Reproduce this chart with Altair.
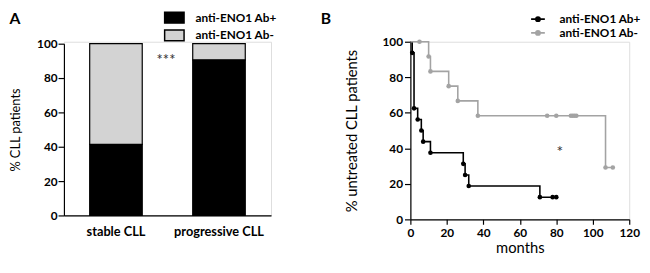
import altair as alt
import pandas as pd

FONT = "Lato"

# ---------- Panel A data ----------
categories = ["stable CLL", "progressive CLL"]
groups = ["anti-ENO1 Ab+", "anti-ENO1 Ab-"]
ab_pos_pct = [41.4, 90.6]
ab_neg_pct = [58.6, 9.4]
y_ticks = [0, 20, 40, 60, 80, 100]

# ---------- Panel B data (Kaplan-Meier steps) ----------
pos_months = [0, 1, 2, 4, 6, 7, 11, 29, 30, 32, 71, 78, 80]
pos_surv = [100, 93.75, 62.5, 56.25, 50, 43.75, 37.5, 31.25, 25, 18.75, 12.5, 12.5, 12.5]
neg_months = [0, 5, 10, 11, 21, 26, 37, 75, 80, 88, 89, 90, 91, 107, 111]
neg_surv = [100, 100, 91.7, 83.3, 75, 66.7, 58.3, 58.3, 58.3, 58.3, 58.3, 58.3, 58.3, 29.2, 29.2]
x_ticks = [0, 20, 40, 60, 80, 100, 120]
star_b_pos = {"months": [82], "surv": [38], "t": ["*"]}

bar_df = pd.DataFrame({
    "cat": categories * 2,
    "group": [groups[0]] * 2 + [groups[1]] * 2,
    "pct": ab_pos_pct + ab_neg_pct,
    "ord": [0, 0, 1, 1],
})

# wide rectangle swatch; size 121 -> nominal 11px box, path spans 1.8x wider
rect_shape = "M-1.8,-1H1.8V1H-1.8Z"

bars = alt.Chart(bar_df).mark_bar(stroke="black", strokeWidth=1.2).encode(
    x=alt.X("cat:N", sort=categories,
            scale=alt.Scale(paddingInner=0.49, paddingOuter=0.25),
            axis=alt.Axis(title=None, labelAngle=0, ticks=False, domainColor="black",
                          domainWidth=1.2, labelFont=FONT, labelFontWeight="bold",
                          labelFontSize=13, labelColor="black", labelPadding=10)),
    y=alt.Y("pct:Q", stack="zero",
            scale=alt.Scale(domain=[0, 100], range=[177, 2], nice=False),
            axis=alt.Axis(title="% CLL patients", values=y_ticks, grid=False,
                          labelOverlap=False, labelFlush=False,
                          domainColor="black", domainWidth=1.2, tickColor="black",
                          tickSize=6, tickWidth=1.2, labelPadding=1,
                          labelFont=FONT, labelFontWeight="bold", labelFontSize=12,
                          labelColor="black", titleFont=FONT, titleFontSize=13,
                          titleFontWeight="normal", titleColor="black", titlePadding=14)),
    color=alt.Color("group:N", sort=groups,
                    scale=alt.Scale(domain=groups, range=["black", "#d3d3d3"]),
                    legend=alt.Legend(title=None, orient="none", legendX=106, legendY=-31,
                                      symbolType=rect_shape, symbolSize=121,
                                      symbolStrokeColor="black", symbolStrokeWidth=1.5,
                                      labelFont=FONT, labelFontWeight="bold", labelFontSize=12,
                                      labelColor="black", labelOffset=15, rowPadding=1,
                                      padding=0)),
    order=alt.Order("ord:Q"),
)

stars_a = alt.Chart(pd.DataFrame({"t": ["***"]})).mark_text(
    font=FONT, fontSize=15, fill="#333333").encode(
    text="t:N", x=alt.value(104), y=alt.value(19))

label_a = alt.Chart(pd.DataFrame({"t": ["A"]})).mark_text(
    font=FONT, fontSize=16, fontWeight="bold", fill="black").encode(
    text="t:N", x=alt.value(-50), y=alt.value(-23))

panel_a = alt.layer(bars, stars_a, label_a).properties(width=211, height=177)

# ---------- Panel B ----------
km_rows = []
for m, s in zip(pos_months, pos_surv):
    km_rows.append({"group": groups[0], "months": m, "surv": s})
for m, s in zip(neg_months, neg_surv):
    km_rows.append({"group": groups[1], "months": m, "surv": s})
km_df = pd.DataFrame(km_rows)
km_df["mark"] = km_df["months"] > 0

xB = alt.X("months:Q", scale=alt.Scale(domain=[0, 120], nice=False),
           axis=alt.Axis(title="months", values=x_ticks, grid=False, domainColor="black",
                         labelOverlap=False, labelFlush=False,
                         domainWidth=1.2, tickColor="black", tickSize=5, tickWidth=1.2,
                         labelFont=FONT, labelFontWeight="bold", labelFontSize=12,
                         labelColor="black", labelPadding=3, titleFont=FONT,
                         titleFontSize=15, titleFontWeight="normal", titleColor="black",
                         titlePadding=3))
yB = alt.Y("surv:Q", scale=alt.Scale(domain=[0, 100], nice=False),
           axis=alt.Axis(title="% untreated CLL patients", values=y_ticks, grid=False,
                         labelOverlap=False, labelFlush=False,
                         domainColor="black", domainWidth=1.2, tickColor="black",
                         tickSize=6, tickWidth=1.2, labelPadding=2, labelFont=FONT,
                         labelFontWeight="bold", labelFontSize=12, labelColor="black",
                         titleFont=FONT, titleFontSize=15, titleFontWeight="normal",
                         titleColor="black", titlePadding=23))

line_shape = "M-1,0H1M-0.3,0A0.3,0.3 0 1,0 0.3,0A0.3,0.3 0 1,0 -0.3,0Z"
colB = alt.Color("group:N", sort=groups,
                 scale=alt.Scale(domain=groups, range=["black", "#a3a3a3"]),
                 legend=alt.Legend(title=None, orient="none", legendX=122, legendY=-31,
                                   symbolType=line_shape, symbolSize=196,
                                   symbolStrokeWidth=1.8, labelFont=FONT,
                                   labelFontWeight="bold", labelFontSize=12,
                                   labelColor="black", labelOffset=14, rowPadding=0,
                                   padding=0))

km_lines = alt.Chart(km_df).mark_line(interpolate="step-after", strokeWidth=1.6).encode(
    x=xB, y=yB, color=colB, detail="group:N")
km_pts = alt.Chart(km_df).transform_filter("datum.mark").mark_circle(size=22, opacity=1).encode(
    x=xB, y=yB, color=colB)

star_b = alt.Chart(pd.DataFrame(star_b_pos)).mark_text(
    font=FONT, fontSize=16, fill="#333333").encode(x=xB, y=yB, text="t:N")

label_b = alt.Chart(pd.DataFrame({"t": ["B"]})).mark_text(
    font=FONT, fontSize=16, fontWeight="bold", fill="black").encode(
    text="t:N", x=alt.value(-86), y=alt.value(-23))

panel_b = alt.layer(km_lines, km_pts, star_b, label_b).properties(width=223, height=181)

chart = alt.hconcat(panel_a, panel_b, spacing=43).resolve_scale(
    color="independent", x="independent", y="independent").resolve_legend(
    color="independent").properties(
    padding={"left": 0, "top": 0, "right": 0, "bottom": 0}
).configure_view(stroke=None).configure(background="white")

chart.save("out.html", embed_options={"renderer": "svg", "actions": False})
